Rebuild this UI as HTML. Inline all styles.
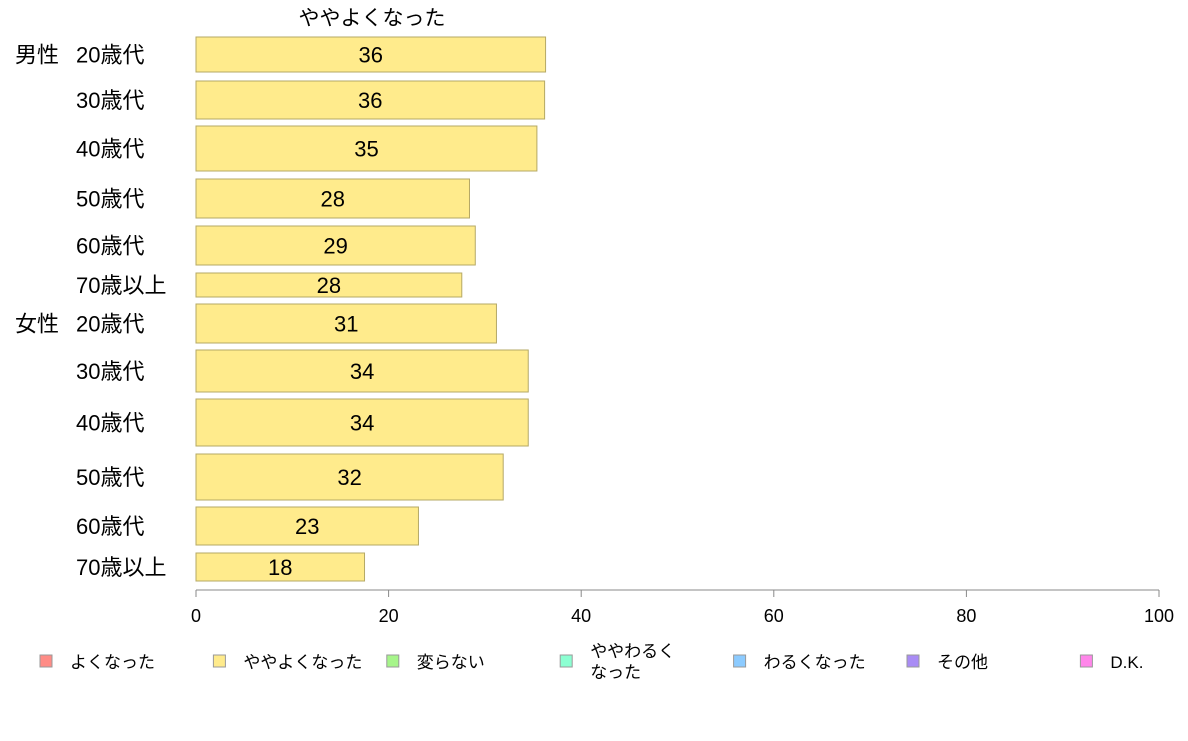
<!DOCTYPE html>
<html><head><meta charset="utf-8"><style>
body{margin:0;background:#fff;font-family:"Liberation Sans","Noto Sans CJK JP",sans-serif;}
svg text{font-family:"Liberation Sans","Noto Sans CJK JP",sans-serif;}
</style></head><body>
<svg id="c" width="1188" height="736" xmlns="http://www.w3.org/2000/svg">
<text x="372" y="25" font-size="21" text-anchor="middle">ややよくなった</text>
<g id="bars"></g>
<g id="axis"></g>
<g id="legend"></g>
</svg>
<script>
const categories=["20歳代","30歳代","40歳代","50歳代","60歳代","70歳以上","20歳代","30歳代","40歳代","50歳代","60歳代","70歳以上"];
const groups=["男性","","","","","","女性","","","","",""];
const values=[36.3,36.2,35.4,28.4,29.0,27.6,31.2,34.5,34.5,31.9,23.1,17.5];
const labels=["36","36","35","28","29","28","31","34","34","32","23","18"];
const barTops=[37,81,126,179,226,273,304,350,399,454,507,553];
const barBottoms=[72,119,171,218,265,297,343,392,446,500,545,581];
const ticks=[0,20,40,60,80,100];
const legendItems=["よくなった","ややよくなった","変らない","ややわるく|なった","わるくなった","その他","D.K."];
const legendColors=["#ff8c86","#ffeb8c","#a6f58a","#8cffd2","#8ccbff","#a98cf5","#ff86ea"];
const NS="http://www.w3.org/2000/svg";
const x0=196,x1=1159;
const xs=v=>x0+(x1-x0)*v/100;
function mk(tag,attrs,parent,txt){const e=document.createElementNS(NS,tag);for(const k in attrs)e.setAttribute(k,attrs[k]);if(txt!=null)e.textContent=txt;parent.appendChild(e);return e;}
const bars=document.getElementById('bars');
values.forEach((v,i)=>{
  const t=barTops[i],b=barBottoms[i],m=(t+b)/2;
  const r=mk('rect',{x:xs(0),y:t,width:xs(v)-xs(0),height:b-t,fill:"#ffeb8c",stroke:"#b5a865","stroke-width":1},bars);
  
  
  const l=mk('text',{x:(xs(0)+xs(v))/2,y:m+8,"font-size":22,"text-anchor":"middle"},bars,labels[i]);
  
  
  const c=mk('text',{x:76,y:m+8,"font-size":22},bars,categories[i]);
  
  
  if(groups[i]){const g=mk('text',{x:15,y:m+8,"font-size":22},bars,groups[i]);
  
  }
});
const ax=document.getElementById('axis');
mk('line',{x1:x0,y1:590,x2:x1,y2:590,stroke:"#888","stroke-width":1},ax);
ticks.forEach(t=>{
  mk('line',{x1:xs(t),y1:590,x2:xs(t),y2:597,stroke:"#888","stroke-width":1},ax);
  const tl=mk('text',{x:xs(t),y:622,"font-size":18,"text-anchor":"middle"},ax,String(t));
  
  
});
const lg=document.getElementById('legend');
legendItems.forEach((s,i)=>{
  const lx=40+i*173.4;
  const sw=mk('rect',{x:lx,y:655,width:12,height:12,fill:legendColors[i],stroke:"#999","stroke-width":1},lg);
  
  
  const parts=s.split('|');
  const tx=mk('text',{x:lx+30,y:parts.length>1?657:668,"font-size":17},lg);
  
  
  parts.forEach((p,j)=>{mk('tspan',{x:lx+30,dy:j?21:0},tx,p);});
});
</script>
</body></html>
